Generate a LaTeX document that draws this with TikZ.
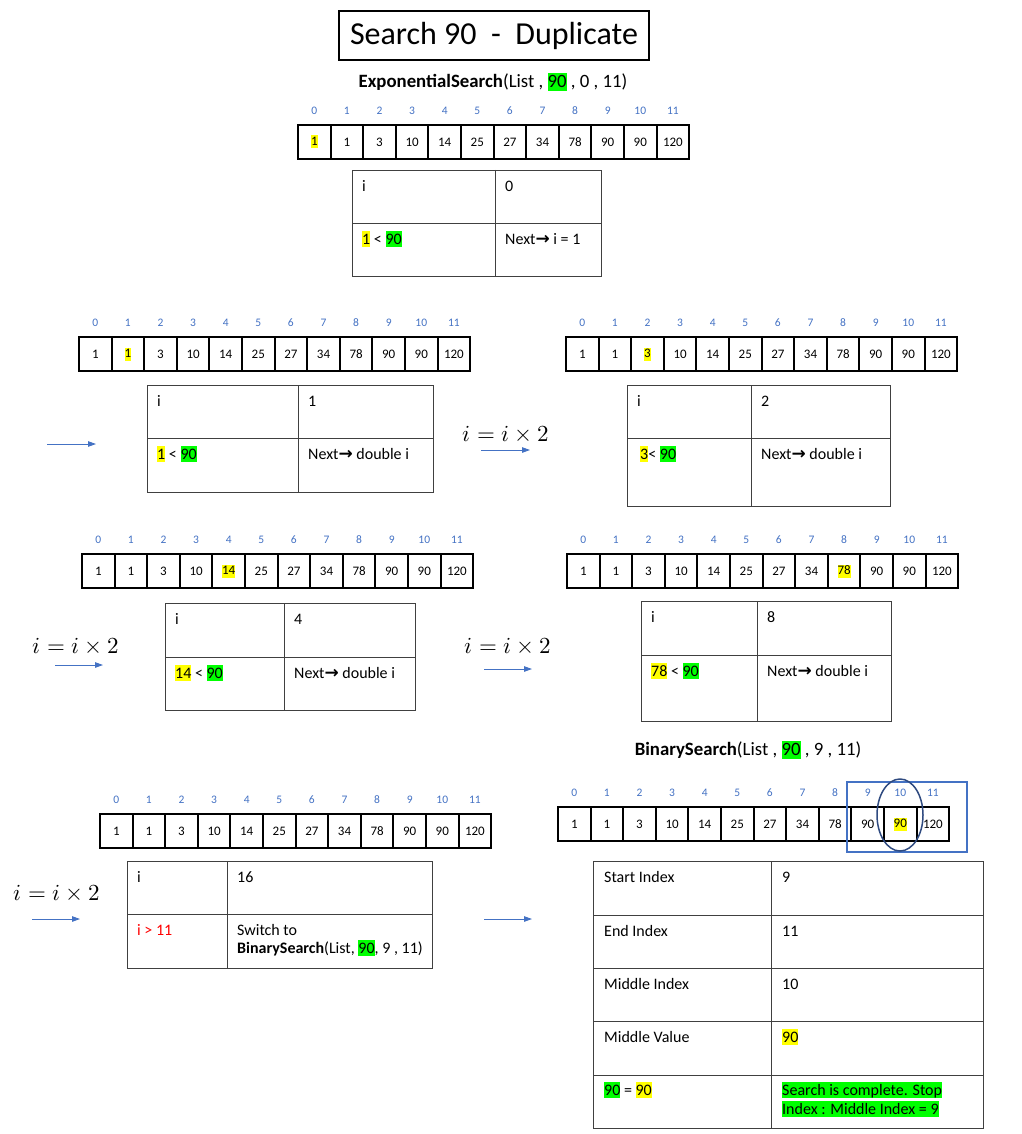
\documentclass[tikz,border=0pt]{standalone}
\usepackage{unicode-math}
\setmainfont{Carlito}
\setmathfont{Latin Modern Math}
\newfontfamily\arrowfont{DejaVu Sans}
\usetikzlibrary{arrows.meta}
\definecolor{hly}{HTML}{FFFF00}
\definecolor{hlg}{HTML}{00FF00}
\definecolor{idxblue}{HTML}{4472C4}
\definecolor{navy}{HTML}{2F4A80}
\definecolor{gridgray}{HTML}{404040}
\newcommand{\hly}[1]{{\setlength{\fboxsep}{0pt}\colorbox{hly}{\vrule width 0pt height 0.8em depth 0.2em #1}}}
\newcommand{\hlg}[1]{{\setlength{\fboxsep}{0pt}\colorbox{hlg}{\vrule width 0pt height 0.8em depth 0.2em #1}}}
\newcommand{\nxt}{Next{\arrowfont\bfseries\fontsize{17}{18}\selectfont →}}

\begin{document}
\begin{tikzpicture}[x=1pt,y=-1pt,
  cell/.style={draw, line width=2pt, anchor=north west, minimum width=32.6pt,
    minimum height=34pt, inner sep=0pt, font=\fontsize{13}{15}\selectfont},
  idx/.style={text=idxblue, inner sep=0pt, font=\fontsize{11.5}{13}\selectfont},
  tline/.style={draw=gridgray, line width=0.9pt},
  ttext/.style={anchor=base west, inner sep=0pt, align=left,
    font=\fontsize{16}{18}\selectfont},
  eq/.style={inner sep=0pt, font=\fontsize{23}{27}\selectfont},
  flow/.style={draw=idxblue, line width=0.9pt, -{Triangle[length=8pt,width=5.5pt]}}]
\useasboundingbox (0,0) rectangle (1021,1134);
\fill[white] (0,0) rectangle (1021,1134);

% title and call
\node[draw, line width=2pt, minimum width=310pt, minimum height=49pt,
  font=\fontsize{32}{36}\selectfont] (title) at (494,35.5) {Search 90\ \ -\ \ Duplicate};
\node[inner sep=0pt, font=\fontsize{18.8}{22}\selectfont] (expcall) at (493,82)
  {\textbf{ExponentialSearch}(List , \hlg{90} , 0 , 11)};

% the seven copies of the list
\foreach \p/\x/\y/\h in {la/297/124/0, lb/78/336/1, lc/565/336/2, ld/81/553/4,
    le/566/553/8, lf/99/813/-1, lg/557/806/10}{
  \foreach \v [count=\k from 0] in {1,1,3,10,14,25,27,34,78,90,90,120}{
    \node[cell] (\p-\k) at ({\x+\k*32.6},\y) {\ifnum\k=\h\relax\hly{\v}\else\v\fi};
    \node[idx] (\p-i\k) at ([yshift=13pt]\p-\k.north) {\k};
  }
}

% step i = 0
\draw[tline] (352,170) rectangle (601,276) (495,170) -- (495,276) (352,223) -- (601,223);
\node[ttext] (t0-a) at (362,191) {i};
\node[ttext] (t0-b) at (505,191) {0};
\node[ttext] (t0-c) at (362,244) {\hly{1} < \hlg{90}};
\node[ttext] (t0-d) at (505,244) {\nxt\ i = 1};

% step i = 1
\draw[tline] (147,385) rectangle (433,492) (298,385) -- (298,492) (147,438) -- (433,438);
\node[ttext] (t1-a) at (157,406) {i};
\node[ttext] (t1-b) at (308,406) {1};
\node[ttext] (t1-c) at (157,459) {\hly{1} < \hlg{90}};
\node[ttext] (t1-d) at (308,459) {\nxt\ double i};

% step i = 2
\draw[tline] (627,385) rectangle (890,506) (751,385) -- (751,506) (627,438) -- (890,438);
\node[ttext] (t2-a) at (637,406) {i};
\node[ttext] (t2-b) at (761,406) {2};
\node[ttext] (t2-c) at (640,459) {\hly{3}< \hlg{90}};
\node[ttext] (t2-d) at (761,459) {\nxt\ double i};

% step i = 4
\draw[tline] (165,603) rectangle (415,710) (284,603) -- (284,710) (165,657) -- (415,657);
\node[ttext] (t3-a) at (175,624) {i};
\node[ttext] (t3-b) at (294,624) {4};
\node[ttext] (t3-c) at (175,678) {\hly{14} < \hlg{90}};
\node[ttext] (t3-d) at (294,678) {\nxt\ double i};

% step i = 8
\draw[tline] (641,601) rectangle (891,721) (757,601) -- (757,721) (641,655) -- (891,655);
\node[ttext] (t4-a) at (651,622) {i};
\node[ttext] (t4-b) at (767,622) {8};
\node[ttext] (t4-c) at (651,676) {\hly{78} < \hlg{90}};
\node[ttext] (t4-d) at (767,676) {\nxt\ double i};

% step i = 16
\draw[tline] (127,861) rectangle (432,968) (227,861) -- (227,968) (127,914) -- (432,914);
\node[ttext] (t5-a) at (137,882) {i};
\node[ttext] (t5-b) at (237,882) {16};
\node[ttext, text=red] (t5-c) at (137,935) {i > 11};
% base anchor of a two-line node sits on its last line
\node[ttext] (t5-d) at (237,953) {Switch to\\\textbf{BinarySearch}(List, \hlg{90}, 9 , 11)};

% binary search
\node[inner sep=0pt, font=\fontsize{18.8}{22}\selectfont] (bincall) at (748,750)
  {\textbf{BinarySearch}(List , \hlg{90} , 9 , 11)};
\draw[idxblue, line width=1.5pt] (847,782) rectangle (967,852);
\coordinate (mid) at (900,815);
\draw[navy, line width=1.5pt] (mid) ellipse [x radius=23, y radius=36];

\draw[tline] (593,861) rectangle (983,1128) (771,861) -- (771,1128);
\foreach \r in {915,968,1021,1075} \draw[tline] (593,\r) -- (983,\r);
\node[ttext] (tb-a) at (604,882) {Start Index};
\node[ttext] (tb-b) at (782,882) {9};
\node[ttext] (tb-c) at (604,936) {End Index};
\node[ttext] (tb-d) at (782,936) {11};
\node[ttext] (tb-e) at (604,989) {Middle Index};
\node[ttext] (tb-f) at (782,989) {10};
\node[ttext] (tb-g) at (604,1042) {Middle Value};
\node[ttext] (tb-h) at (782,1042) {\hly{90}};
\node[ttext] (tb-i) at (604,1095) {\hlg{90} = \hly{90}};
\node[ttext] (tb-j) at (782,1114) {\hlg{Search is complete. Stop}\\[1pt]\hlg{Index : Middle Index = 9}};

% doubling labels and arrows
\node[eq] (eq1) at (506,434) {$i = i \times 2$};
\node[eq] (eq2) at (76,646) {$i = i \times 2$};
\node[eq] (eq3) at (508,646) {$i = i \times 2$};
\node[eq] (eq4) at (57,893) {$i = i \times 2$};
\foreach \n/\xa/\xb/\yy in {f1/47/96/444, f2/481/530/450, f3/55/103/665,
    f4/484/532/669, f5/32/80/919, f6/484/532/919}{
  \coordinate (\n-s) at (\xa,\yy);
  \coordinate (\n-e) at (\xb,\yy);
  \draw[flow] (\n-s) -- (\n-e);
}
\end{tikzpicture}
\end{document}
